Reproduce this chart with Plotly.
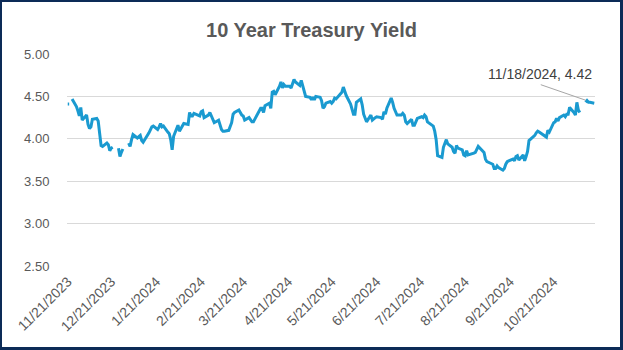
import pandas as pd
import plotly.graph_objects as go

# ---- data: 10-year Treasury yield, business days (None = holiday shown as a gap) ----
nov_2023 = [4.41, 4.41, None, 4.47, 4.38, 4.33, 4.27, 4.37]
dec_2023 = [4.22, 4.28, 4.17, 4.12, 4.14, 4.23, 4.24, 4.21, 4.04, 3.92, 3.91,
            3.95, 3.93, 3.86, 3.89, 3.90, None, 3.89, 3.79, 3.84, 3.88]
jan_2024 = [None, 3.95, 3.91, 3.99, 4.05, 4.01, 4.02, 4.04, 3.98, 3.96, 4.07,
            4.10, 4.14, 4.15, 4.11, 4.14, 4.18, 4.14, 4.15, 4.08, 4.06, 3.99]
feb_2024 = [3.87, 4.03, 4.16, 4.09, 4.12, 4.15, 4.18, 4.17, 4.31, 4.27, 4.27,
            4.30, 4.27, 4.32, 4.33, 4.25, 4.28, 4.31, 4.27, 4.25]
mar_2024 = [4.19, 4.22, 4.15, 4.11, 4.09, 4.09, 4.10, 4.16, 4.19, 4.29, 4.31,
            4.34, 4.30, 4.28, 4.27, 4.22, 4.25, 4.23, 4.20, 4.20]
apr_2024 = [4.33, 4.36, 4.36, 4.31, 4.39, 4.42, 4.36, 4.55, 4.56, 4.52, 4.62,
            4.67, 4.60, 4.64, 4.62, 4.62, 4.60, 4.64, 4.70, 4.67, 4.63, 4.69]
may_2024 = [4.63, 4.58, 4.50, 4.49, 4.46, 4.49, 4.46, 4.50, 4.49, 4.45, 4.36,
            4.38, 4.42, 4.44, 4.42, 4.44, 4.48, 4.47, 4.55, 4.61, 4.55, 4.51]
jun_2024 = [4.41, 4.33, 4.29, 4.29, 4.43, 4.47, 4.40, 4.29, 4.24, 4.20, 4.28,
            4.22, 4.25, 4.26, 4.25, 4.23, 4.32, 4.29, 4.36]
jul_2024 = [4.48, 4.43, 4.36, 4.28, 4.28, 4.30, 4.28, 4.20, 4.18, 4.23, 4.16,
            4.16, 4.20, 4.24, 4.26, 4.25, 4.28, 4.26, 4.20, 4.17, 4.15, 4.09]
aug_2024 = [3.99, 3.80, 3.78, 3.90, 3.96, 3.99, 3.94, 3.90, 3.85, 3.83, 3.92,
            3.89, 3.87, 3.81, 3.80, 3.86, 3.81, 3.82, 3.83, 3.84, 3.87, 3.91]
sep_2024 = [3.84, 3.76, 3.73, 3.72, 3.70, 3.65, 3.65, 3.68, 3.66, 3.63, 3.65,
            3.70, 3.73, 3.74, 3.76, 3.74, 3.79, 3.80, 3.75, 3.81]
oct_2024 = [3.74, 3.79, 3.85, 3.98, 4.03, 4.04, 4.07, 4.09, 4.08, 4.04, 4.02,
            4.10, 4.08, 4.19, 4.20, 4.24, 4.21, 4.25, 4.28, 4.26, 4.29, 4.29]
nov_2024 = [4.37, 4.31, 4.28, 4.43, 4.34, 4.31, None, 4.43, 4.45, 4.43, 4.43, 4.42]

month_spans = [("2023-11-21", "2023-11-30", nov_2023), ("2023-12-01", "2023-12-31", dec_2023),
               ("2024-01-01", "2024-01-31", jan_2024), ("2024-02-01", "2024-02-29", feb_2024),
               ("2024-03-01", "2024-03-31", mar_2024), ("2024-04-01", "2024-04-30", apr_2024),
               ("2024-05-01", "2024-05-31", may_2024), ("2024-06-01", "2024-06-30", jun_2024),
               ("2024-07-01", "2024-07-31", jul_2024), ("2024-08-01", "2024-08-31", aug_2024),
               ("2024-09-01", "2024-09-30", sep_2024), ("2024-10-01", "2024-10-31", oct_2024),
               ("2024-11-01", "2024-11-18", nov_2024)]
# market holidays with no row in the sheet (line simply connects across them)
closed_no_row = ["2024-01-15", "2024-02-19", "2024-03-29", "2024-05-27", "2024-06-19",
                 "2024-07-04", "2024-09-02", "2024-10-14"]

tick_dates = ["2023-11-21", "2023-12-21", "2024-01-21", "2024-02-21", "2024-03-21", "2024-04-21",
              "2024-05-21", "2024-06-21", "2024-07-21", "2024-08-21", "2024-09-21", "2024-10-21"]
tick_labels = ["11/21/2023", "12/21/2023", "1/21/2024", "2/21/2024", "3/21/2024", "4/21/2024",
               "5/21/2024", "6/21/2024", "7/21/2024", "8/21/2024", "9/21/2024", "10/21/2024"]
y_ticks = [2.5, 3.0, 3.5, 4.0, 4.5, 5.0]
last_date = "2024-11-18"
last_value = 4.42
title_text = "10 Year Treasury Yield"

dates, yields = [], []
for start, end, vals in month_spans:
    days = [d for d in pd.bdate_range(start, end) if d.strftime("%Y-%m-%d") not in closed_no_row]
    assert len(days) == len(vals), (start, len(days), len(vals))
    dates += list(days)
    yields += vals

# ---- layout geometry ----
W, H = 623, 350
ML, MR, MT, MB = 67, 28, 54, 84
PW, PH = W - ML - MR, H - MT - MB

def px_x(p):
    return (p - ML) / PW

def px_y(p):
    return (H - MB - p) / PH

FONT = "Liberation Sans, Arial, sans-serif"
GRAY = "#595959"
NAVY = "#0C2B57"

fig = go.Figure()
fig.add_trace(go.Scatter(x=dates, y=yields, mode="lines", connectgaps=False,
                         line=dict(color="#1A9AD0", width=3), hoverinfo="skip"))

border = [(0, 0, 2, H), (W - 3, 0, W, H), (0, 0, W, 2), (0, H - 3, W, H)]
shapes = []
for x0, y0, x1, y1 in border:
    shapes.append(dict(type="rect", xref="paper", yref="paper",
                       x0=px_x(x0), x1=px_x(x1), y0=px_y(y1), y1=px_y(y0),
                       fillcolor=NAVY, line=dict(width=0), layer="above"))

annotations = [
    dict(x=last_date, y=last_value, xref="x", yref="y", text="11/18/2024, 4.42",
         showarrow=False, xshift=-54, yshift=29, font=dict(family=FONT, size=14, color="#404040")),
    dict(x=last_date, y=last_value, xref="x", yref="y", text=" ", font=dict(size=1),
         showarrow=True, arrowhead=0, arrowwidth=1, arrowcolor="#A6A6A6",
         ax=-55, ay=-19, standoff=9),
]

fig.update_layout(
    width=W, height=H,
    margin=dict(l=ML, r=MR, t=MT, b=MB, autoexpand=False),
    paper_bgcolor="white", plot_bgcolor="white",
    showlegend=False,
    title=dict(text="<b>" + title_text + "</b>", x=0.5, xref="container", xanchor="center",
               y=1 - 29.5 / H, yref="container", yanchor="middle",
               font=dict(family=FONT, size=20, color=GRAY)),
    xaxis=dict(type="date", range=["2023-11-20 12:00", "2024-11-18 12:00"],
               tickvals=tick_dates, ticktext=tick_labels, tickangle=-45,
               showgrid=False, zeroline=False, showline=False,
               ticks="outside", ticklen=1, tickcolor="rgba(0,0,0,0)",
               tickfont=dict(family=FONT, size=14, color=GRAY)),
    yaxis=dict(range=[2.5, 5.0], tickvals=y_ticks, tickformat=".2f",
               showgrid=True, gridcolor="#D9D9D9", gridwidth=1, zeroline=False, showline=False,
               ticks="outside", ticklen=14, tickcolor="rgba(0,0,0,0)",
               tickfont=dict(family=FONT, size=13, color=GRAY)),
    shapes=shapes, annotations=annotations,
)

fig.write_html("out.html")
